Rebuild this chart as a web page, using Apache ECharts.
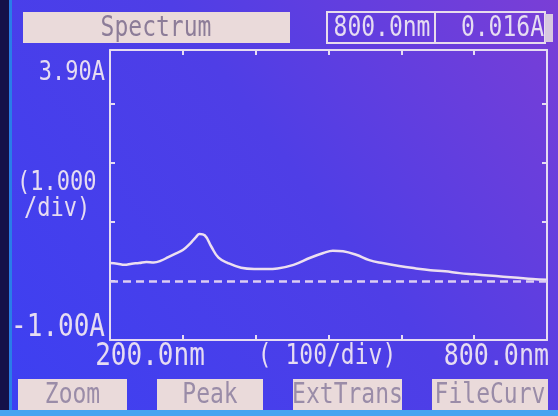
<!DOCTYPE html>
<html><head><meta charset="utf-8">
<script src="https://cdn.jsdelivr.net/npm/echarts@6/dist/echarts.min.js"></script>
<style>html,body{margin:0;padding:0;background:#4a3fe6}#c{width:558px;height:416px}</style>
</head><body><div id="c"></div>
<script>
const wavelengths = [200,210,220,230,240,250,260,270,280,290,300,310,318,323,330,339,349,362,380,398,415,430,452,475,493,506,520,538,556,574,597,620,640,660,680,700,720,740,760,780,800];
const absorbance  = [0.30,0.29,0.27,0.29,0.30,0.32,0.31,0.34,0.40,0.46,0.52,0.63,0.74,0.79,0.77,0.58,0.39,0.30,0.22,0.20,0.20,0.21,0.27,0.39,0.47,0.51,0.50,0.44,0.35,0.30,0.25,0.21,0.18,0.16,0.13,0.11,0.09,0.07,0.05,0.03,0.016];
const xTicks = [200,300,400,500,600,700,800];
const yRange = [-1.0, 3.9];
const titleText = 'Spectrum';
const cursorWl = '800.0nm';
const cursorAbs = '0.016A';
const yLabels = ['3.90A','(1.000','/div)','-1.00A'];
const xLabels = ['200.0nm','( 100/div)','800.0nm'];
const buttons = ['Zoom','Peak','ExtTrans','FileCurv'];

const FG = '#e6dcf2';
const MONO = '"DejaVu Sans Mono","Liberation Mono",monospace';
const chart = echarts.init(document.getElementById('c'), null, {renderer:'canvas'});
const txt = (x,y,s,align,size,color)=>({type:'text',x:x,y:y,scaleY:1.2,originY:0,
  style:{text:s,fill:color||FG,font:(size||23)+'px '+MONO,textAlign:align||'left',textVerticalAlign:'middle'},z:10});
const btnX = [[18,127],[157,263],[293,402],[432,548]];
const g = [
  {type:'rect',shape:{x:0,y:0,width:9,height:416},style:{fill:'#14104a'},z:1},
  {type:'rect',shape:{x:9,y:0,width:3,height:416},style:{fill:'#2a7de8'},z:1},
  {type:'rect',shape:{x:0,y:410,width:558,height:6},style:{fill:'#47a4f0'},z:1},
  {type:'rect',shape:{x:23,y:12,width:267,height:31},style:{fill:'#eadada'},z:5},
  txt(156,29,titleText,'center',23,'#8c7c98'),
  {type:'rect',shape:{x:327,y:12,width:218,height:31},style:{fill:'none',stroke:'#e8dcec',lineWidth:2},z:5},
  {type:'line',shape:{x1:435,y1:12,x2:435,y2:43},style:{stroke:'#e8dcec',lineWidth:2},z:5},
  {type:'rect',shape:{x:545,y:14,width:8,height:28},style:{fill:'#d8c8e0'},z:5},
  txt(382,29,cursorWl,'center',23),
  txt(544,29,cursorAbs,'right',23),
  txt(105,73,yLabels[0],'right',22),
  txt(17,183,yLabels[1],'left',22),
  txt(24,209,yLabels[2],'left',22),
  txt(105,328,yLabels[3],'right',26),
  txt(150,357,xLabels[0],'center',26),
  txt(327,357,xLabels[1],'center',23),
  txt(549,357,xLabels[2],'right',25)
];
buttons.forEach((b,i)=>{
  const [a,c]=btnX[i];
  g.push({type:'rect',shape:{x:a,y:379,width:c-a,height:31},style:{fill:'#eadada'},z:5});
  g.push(txt((a+c)/2,396,b,'center',23,'#9a8ca8'));
});
const axisCommon = {
  axisLine:{show:true,onZero:false,lineStyle:{color:FG,width:2}},
  axisTick:{show:true,inside:true,length:5,lineStyle:{color:FG,width:2}},
  axisLabel:{show:false},splitLine:{show:false}
};
chart.setOption({
  animation:false,
  backgroundColor:{type:'linear',x:0,y:1,x2:1,y2:0,colorStops:[{offset:0,color:'#3c40f2'},{offset:0.55,color:'#4f3ee6'},{offset:1,color:'#7a3ed6'}]},
  grid:{left:110,right:11,top:50,bottom:76},
  xAxis:[
    Object.assign({type:'value',min:xTicks[0],max:xTicks[xTicks.length-1],interval:100,position:'bottom'},axisCommon),
    Object.assign({type:'value',min:xTicks[0],max:xTicks[xTicks.length-1],interval:100,position:'top'},axisCommon)
  ],
  yAxis:[
    Object.assign({type:'value',min:-1,max:yRange[1],interval:1,position:'left'},axisCommon),
    Object.assign({type:'value',min:-1,max:yRange[1],interval:1,position:'right'},axisCommon)
  ],
  series:[
    {type:'line',data:wavelengths.map((w,i)=>[w,absorbance[i]]),smooth:0.4,symbol:'none',
     lineStyle:{color:'#ecdff0',width:2.5},
     markLine:{silent:true,symbol:'none',label:{show:false},
       lineStyle:{color:'#dccdf2',type:[8,5],width:2.5},data:[{yAxis:0}]}}
  ],
  graphic:g
});
</script></body></html>
